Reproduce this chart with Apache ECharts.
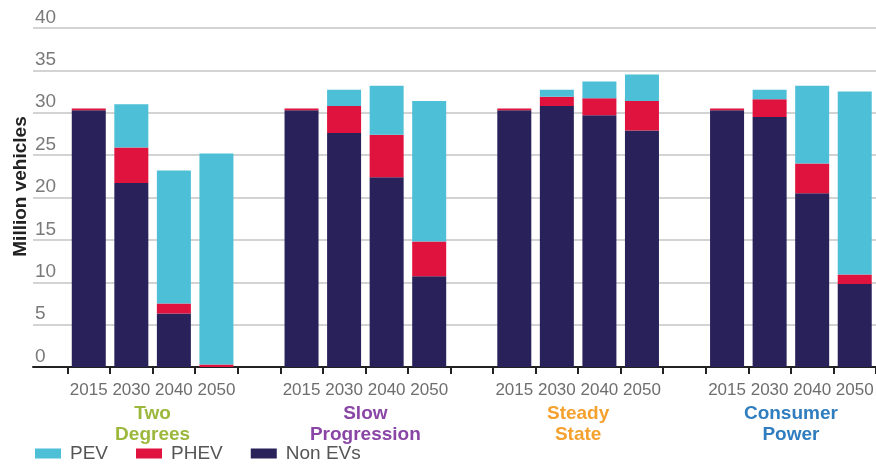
<!DOCTYPE html>
<html>
<head>
<meta charset="utf-8">
<script src="https://cdn.jsdelivr.net/npm/echarts@6/dist/echarts.min.js"></script>
<style>
  html, body { margin: 0; padding: 0; background: #fff; }
  #chart { width: 876px; height: 469px; }
</style>
</head>
<body>
<div id="chart"></div>
<script>
// Vehicle fleet by scenario and year (million vehicles)
const years = ['2015', '2030', '2040', '2050'];
const scenarios = ['Two\nDegrees', 'Slow\nProgression', 'Steady\nState', 'Consumer\nPower'];
const scenarioColors = ['#9cb83c', '#8a46a6', '#f4a12e', '#2f7dbf'];

// one row per scenario, one value per year
const nonEV = [
  [30.3, 21.7, 6.3, 0.0],
  [30.3, 27.6, 22.4, 10.7],
  [30.3, 30.8, 29.7, 27.9],
  [30.3, 29.5, 20.5, 9.8]
];
const phev = [
  [0.2, 4.2, 1.2, 0.3],
  [0.2, 3.2, 5.0, 4.1],
  [0.2, 1.1, 2.0, 3.5],
  [0.2, 2.1, 3.5, 1.1]
];
const pev = [
  [0.0, 5.1, 15.7, 24.9],
  [0.0, 1.9, 5.8, 16.6],
  [0.0, 0.8, 2.0, 3.1],
  [0.0, 1.1, 9.2, 21.6]
];
const yTicks = [0, 5, 10, 15, 20, 25, 30, 35, 40];

// Flatten into category slots, with an empty slot between scenarios
const categories = [];
function flatten(rows) {
  const out = [];
  rows.forEach((row, i) => {
    row.forEach(v => out.push(v));
    if (i < rows.length - 1) out.push(null);
  });
  return out;
}
scenarios.forEach((s, i) => {
  years.forEach(y => categories.push(y));
  if (i < scenarios.length - 1) categories.push('');
});
// centre of each scenario group in category-index units
const groupCentres = scenarios.map((s, i) => i * (years.length + 1) + (years.length - 1) / 2);

const sans = '"Liberation Sans", Arial, sans-serif';

const rich = {};
scenarioColors.forEach((c, i) => {
  rich['g' + i] = { color: c, fontSize: 19, fontWeight: 'bold', fontFamily: sans, lineHeight: 21, align: 'center' };
});

const chart = echarts.init(document.getElementById('chart'), null, { renderer: 'canvas' });
chart.setOption({
  animation: false,
  backgroundColor: '#ffffff',
  grid: [
    { left: 33, right: 0, top: 28, bottom: 102, outerBoundsMode: 'none', containLabel: false },
    { left: 67.5, right: 0, top: 28, bottom: 102, outerBoundsMode: 'none', containLabel: false }
  ],
  legend: {
    data: ['PEV', 'PHEV', 'Non EVs'],
    left: 30, top: 439,
    itemWidth: 26, itemHeight: 10, itemGap: 28,
    icon: 'rect',
    textStyle: { fontFamily: sans, fontSize: 19, color: '#555', padding: [0, 0, 0, 4] }
  },
  xAxis: [
    { // baseline spanning the full plot width
      type: 'category', gridIndex: 0, data: [''],
      axisLine: { show: true, lineStyle: { color: '#222', width: 2 } },
      axisTick: { show: false }, axisLabel: { show: false }
    },
    { // year categories
      type: 'category', gridIndex: 1, data: categories, position: 'bottom',
      axisLine: { show: true, lineStyle: { color: '#222', width: 2 } },
      axisTick: { show: true, length: 7, lineStyle: { color: '#222', width: 2 } },
      axisLabel: { interval: 0, margin: 15, fontFamily: sans, fontSize: 17, color: '#6e6e6e' }
    },
    { // scenario names under each group
      type: 'value', gridIndex: 1, position: 'bottom', min: -0.5, max: categories.length - 0.5,
      axisLine: { show: false }, axisTick: { show: false }, splitLine: { show: false },
      axisLabel: {
        customValues: groupCentres,
        margin: 36,
        formatter: function (v) {
          const i = groupCentres.indexOf(v);
          if (i < 0) return '';
          return scenarios[i].split('\n').map(t => '{g' + i + '|' + t + '}').join('\n');
        },
        rich: rich
      }
    }
  ],
  yAxis: [
    {
      type: 'value', gridIndex: 0, min: 0, max: 40, interval: 5,
      name: 'Million vehicles', nameLocation: 'middle', nameGap: 3, nameMoveOverlap: false,
      nameTextStyle: { fontFamily: sans, fontSize: 19, fontWeight: 'bold', color: '#222', padding: [0, 0, 0, 22] },
      axisLine: { show: false }, axisTick: { show: false },
      splitLine: { lineStyle: { color: '#c4c4c4', width: 1.5 } },
      axisLabel: {
        inside: true, margin: 2, align: 'left', verticalAlign: 'bottom', padding: [0, 0, 1, 0],
        fontFamily: sans, fontSize: 19, color: '#7a7a7a',
        formatter: v => yTicks.includes(v) ? String(v) : ''
      }
    },
    { type: 'value', gridIndex: 1, min: 0, max: 40, show: false }
  ],
  series: [
    {
      name: 'Non EVs', type: 'bar', stack: 'fleet', xAxisIndex: 1, yAxisIndex: 1,
      barWidth: 34, itemStyle: { color: '#28215a' }, data: flatten(nonEV)
    },
    {
      name: 'PHEV', type: 'bar', stack: 'fleet', xAxisIndex: 1, yAxisIndex: 1,
      barWidth: 34, itemStyle: { color: '#e0123e' }, data: flatten(phev)
    },
    {
      name: 'PEV', type: 'bar', stack: 'fleet', xAxisIndex: 1, yAxisIndex: 1,
      barWidth: 34, itemStyle: { color: '#4dbfd6' }, data: flatten(pev)
    }
  ]
});
</script>
</body>
</html>
